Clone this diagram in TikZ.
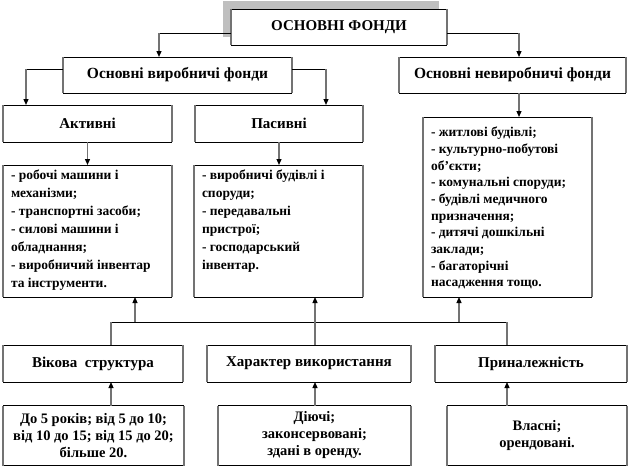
\documentclass[tikz,border=0pt]{standalone}
\usepackage{fontspec}
\setmainfont{Liberation Serif}
\usetikzlibrary{arrows.meta,shadows}

\begin{document}
\begin{tikzpicture}
  [x=1pt,y=-1pt,
   every node/.style={inner sep=0pt,outer sep=0pt,font=\bfseries\fontsize{15}{17}\selectfont},
   box/.style={fill=white,minimum height=37pt,align=center},
   listbox/.style={fill=white,anchor=north west,inner xsep=8pt,inner ysep=5pt,
     font=\bfseries\fontsize{13.5}{18}\selectfont},
   detail/.style={box,minimum height=60pt,font=\bfseries\fontsize{14.5}{17}\selectfont},
   hline/.style={line width=0.8pt},
   vline/.style={line width=1.2pt,black!55},
   headed/.style={-{Triangle[width=5pt,length=6pt,color=black]}}]
  \path[fill=white] (0,0) rectangle (630,469);

  \node[box,minimum width=216pt,minimum height=36pt,
    drop shadow={shadow xshift=-8pt,shadow yshift=8pt,fill=black!25,opacity=1}]
    (osn) at (339,27) {ОСНОВНІ ФОНДИ};
  \node[box,minimum width=229pt,minimum height=36pt,font=\bfseries\fontsize{15.5}{17}\selectfont]
    (vyr) at (177.5,75) {Основні виробничі фонди};
  \node[box,minimum width=227pt,minimum height=36pt,font=\bfseries\fontsize{15.5}{17}\selectfont]
    (nevyr) at (512.5,75) {Основні невиробничі фонди};
  \node[box,minimum width=169pt] (akt) at (87.5,123.5) {Активні};
  \node[box,minimum width=168pt] (pas) at (279,123.5) {Пасивні};

  \node[listbox] (lakt) at (3,165) {\parbox[c][122pt][t]{153pt}{\raggedright
    - робочі машини і\\механізми;\\- транспортні засоби;\\- силові машини і\\обладнання;\\
    - виробничий інвентар\\та інструменти.}};
  \node[listbox] (lpas) at (194,165) {\parbox[c][122pt][t]{153pt}{\raggedright
    - виробничі будівлі і\\споруди;\\- передавальні\\пристрої;\\- господарський\\інвентар.}};
  \node[listbox,inner ysep=10pt,font=\bfseries\fontsize{13.5}{16.7}\selectfont] (lnev) at (423,117)
    {\parbox[c][160pt][t]{153pt}{\raggedright
    - житлові будівлі;\\- культурно-побутові\\об’єкти;\\- комунальні споруди;\\
    - будівлі медичного\\призначення;\\- дитячі дошкільні\\заклади;\\- багаторічні\\
    насадження тощо.}};

  \node[box,minimum width=180pt] (vik) at (93,363.5) {Вікова~ структура};
  \node[box,minimum width=204pt] (har) at (309,363.5) {Характер використання};
  \node[box,minimum width=192pt] (nal) at (531,363.5) {Приналежність};

  \node[detail,minimum width=181pt] (dvik) at (93.5,435.5)
    {До 5 років; від 5 до 10;\\від 10 до 15; від 15 до 20;\\більше 20.};
  \node[detail,minimum width=193pt] (dhar) at (314.5,435.5)
    {Діючі;\\законсервовані;\\здані в оренду.};
  \node[detail,minimum width=180pt] (dnal) at (537,435.5) {Власні;\\орендовані.};

  % borders: solid top and bottom, grey sides
  \foreach \n in {osn,vyr,nevyr,akt,pas,lakt,lpas,lnev,vik,har,nal,dvik,dhar,dnal} {
    \draw[hline] (\n.north west) -- (\n.north east) (\n.south west) -- (\n.south east);
    \draw[vline] (\n.north west) -- (\n.south west) (\n.north east) -- (\n.south east);
  }

  \coordinate (c1) at (159,33);
  \coordinate (c2) at (519,33);
  \coordinate (c3) at (26,69);
  \coordinate (c4) at (326,69);
  \coordinate (b1) at (111,322);
  \coordinate (b2) at (315,322);
  \coordinate (b3) at (507,322);
  \coordinate (u1) at (135,322);
  \coordinate (u3) at (459,322);

  \foreach \from/\side/\bend/\to in {osn/west/c1/vyr,osn/east/c2/nevyr,vyr/west/c3/akt,vyr/east/c4/pas} {
    \draw[hline] (\from.\side |- \bend) -- (\bend);
    \draw[vline,headed] (\bend) -- (\to.north -| \bend);
  }
  \foreach \from/\to in {akt/lakt,pas/lpas}
    \draw[vline,headed] (\from.south) -- (\from.south |- \to.north);
  \draw[vline,headed] (nevyr.south -| c2) -- (lnev.north -| c2);

  \draw[hline] (b1) -- (b3);
  \draw[vline] (b1) -- (vik.north -| b1);
  \draw[vline] (b3) -- (nal.north -| b3);
  \draw[vline,headed] (u1) -- (lakt.south -| u1);
  \draw[vline,headed] (har.north -| b2) -- (lpas.south -| b2);
  \draw[vline,headed] (u3) -- (lnev.south -| u3);
  \foreach \from/\to/\via in {dvik/vik/b1,dhar/har/b2,dnal/nal/b3}
    \draw[vline,headed] (\from.north -| \via) -- (\to.south -| \via);
\end{tikzpicture}
\end{document}
